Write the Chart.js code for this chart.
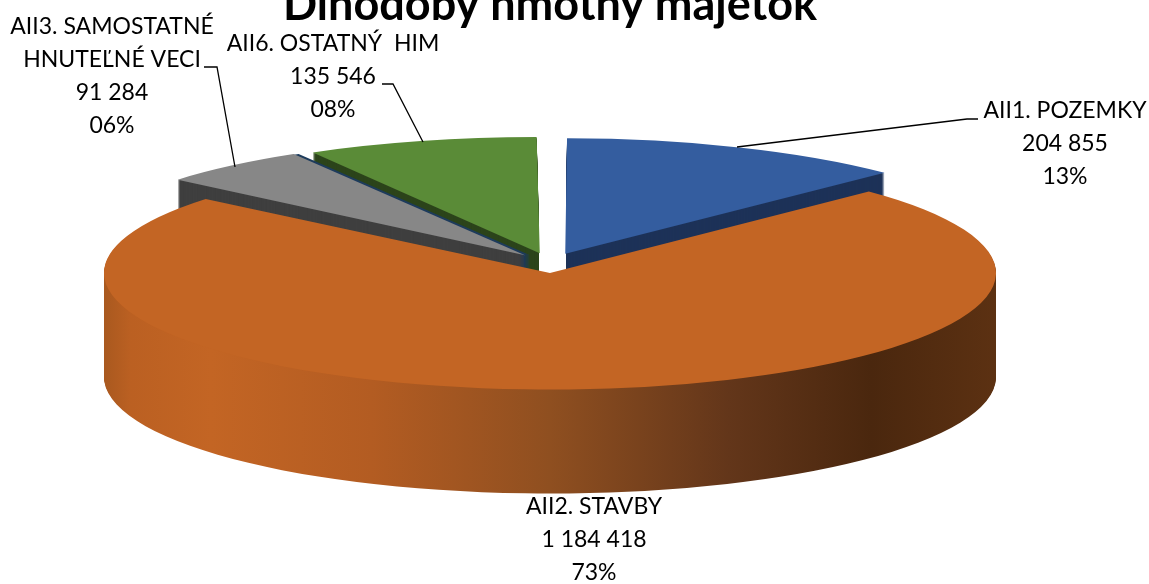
<!DOCTYPE html>
<html lang="sk">
<head>
<meta charset="UTF-8">
<title>Dlhodobý hmotný majetok</title>
<style>
  html, body { margin: 0; padding: 0; background: #fff; overflow: hidden; }
  canvas { display: block; }
</style>
</head>
<body>
<canvas id="chartPie" width="1149" height="584"></canvas>
<script src="https://cdn.jsdelivr.net/npm/chart.js"></script>
<script>
// data
const categories = [['AII1. POZEMKY'], ['AII2. STAVBY'], ['AII3. SAMOSTATNÉ', 'HNUTEĽNÉ VECI'], ['AII6. OSTATNÝ  HIM']]
const values = [204855, 1184418, 91284, 135546]
const percentLabels = ['13%', '73%', '06%', '08%']
const titleText = 'Dlhodobý hmotný majetok'

// styles
const topColors = ['#345d9f', '#c36524', '#878787', '#5a8b37']
const wallColors = ['#1d3258', '#c36524', '#3f3f3f', '#2c441b']
const sliverColor = '#1d3b5c'
const orangeWallStops = [[0, '#a9591f'], [0.03, '#bb6022'], [0.12, '#c36524'], [0.3, '#b35c22'], [0.5, '#8f4f20'], [0.7, '#63361a'], [0.86, '#4a270e'], [1, '#5c3112']]

// layout
const pieRadius = 200
const radiusX = 446, radiusY = 116.5, wallDepth = 104
const explode = 72, backLift = 10
// arcs grow with their offset, pull them back
const shrinkX = [0.98, 1, 0.96, 0.98]
const shrinkY = [0.965, 1, 0.955, 0.955]
const drawOrder = [0, 3, 2, 1]
const labelCenters = [[1065, 111], [594, 507], [112, 27], [333, 44]]
const labelLineStep = 33
const leaders = [
  [[737, 147], [967, 119], [978, 119]],
  null,
  [[204, 67], [217, 67], [235, 167]],
  [[382, 84], [393, 84], [423, 142]]
]

const formatValue = v => String(v).replace(/\B(?=(\d{3})+$)/g, ' ')

const pie3d = {
  id: 'pie3d',
  beforeDatasetsDraw(chart) {
    const ctx = chart.ctx
    const arcs = chart.getDatasetMeta(0).data
    const cx = arcs[0].x, cy = arcs[0].y

    // gradient lives in the unscaled pie space, so it follows the transform
    const grad = ctx.createLinearGradient(cx - pieRadius, 0, cx + pieRadius, 0)
    orangeWallStops.forEach(s => grad.addColorStop(s[0], s[1]))

    const paint = (arc, i, color, dx, dy) => {
      const keep = arc.options
      arc.options = Object.assign(Object.create(keep), { backgroundColor: color })
      ctx.save()
      ctx.translate(cx + dx, cy + dy)
      ctx.scale(shrinkX[i] * radiusX / pieRadius, shrinkY[i] * radiusY / pieRadius)
      ctx.translate(-cx, -cy)
      arc.draw(ctx)
      ctx.restore()
      arc.options = keep
    }

    // x where the straight vertical edge of a slice sits
    const edgeX = (arc, i) => {
      const mid = (arc.startAngle + arc.endAngle) / 2
      return cx + Math.cos(mid) * (explode / 4) * shrinkX[i] * radiusX / pieRadius
    }

    drawOrder.forEach(i => {
      const arc = arcs[i]
      const lift = i === 1 ? 0 : -backLift
      const wall = i === 1 ? grad : wallColors[i]
      if (i === 2) {
        // thin dark edge next to the grey slice
        for (let d = wallDepth; d >= 0; d--) paint(arc, i, sliverColor, 5, lift + d)
      }
      ctx.save()
      // stacked antialiased edges would make a dark fringe on the gap
      if (i === 0) {
        ctx.beginPath()
        ctx.rect(edgeX(arc, i) + 1, 0, chart.width, chart.height)
        ctx.clip()
      }
      if (i === 3) {
        ctx.beginPath()
        ctx.rect(0, 0, edgeX(arc, i) - 1, chart.height)
        ctx.clip()
      }
      for (let d = wallDepth; d > 0; d--) paint(arc, i, wall, 0, lift + d)
      ctx.restore()
      paint(arc, i, topColors[i], 0, lift)
    })
    return false
  },
  afterDraw(chart) {
    const ctx = chart.ctx
    ctx.save()
    ctx.fillStyle = '#000'
    ctx.font = '23px Lato'
    ctx.textAlign = 'center'
    ctx.textBaseline = 'middle'
    categories.forEach((name, i) => {
      const lines = name.concat([formatValue(values[i]), percentLabels[i]])
      lines.forEach((line, n) => {
        ctx.fillText(line, labelCenters[i][0], labelCenters[i][1] + n * labelLineStep)
      })
      if (leaders[i]) {
        ctx.beginPath()
        leaders[i].forEach((p, n) => n ? ctx.lineTo(p[0], p[1]) : ctx.moveTo(p[0], p[1]))
        ctx.strokeStyle = '#000'
        ctx.lineWidth = 1.3
        ctx.stroke()
      }
    })
    ctx.restore()
  }
}

new Chart(document.getElementById('chartPie'), {
  type: 'pie',
  data: {
    labels: categories.map(c => c.join(' ')),
    datasets: [{
      data: values,
      backgroundColor: topColors,
      borderWidth: 0,
      offset: [explode, 0, explode, explode]
    }]
  },
  options: {
    responsive: false,
    animation: false,
    radius: pieRadius,
    layout: { padding: { right: 49, bottom: 38 } },
    plugins: {
      legend: { display: false },
      tooltip: { enabled: false },
      title: {
        display: true,
        text: titleText,
        color: '#000',
        font: { family: 'Lato', size: 45, weight: 'bold' },
        padding: { top: -22, bottom: -32 }
      }
    }
  },
  plugins: [pie3d]
})
</script>
</body>
</html>
